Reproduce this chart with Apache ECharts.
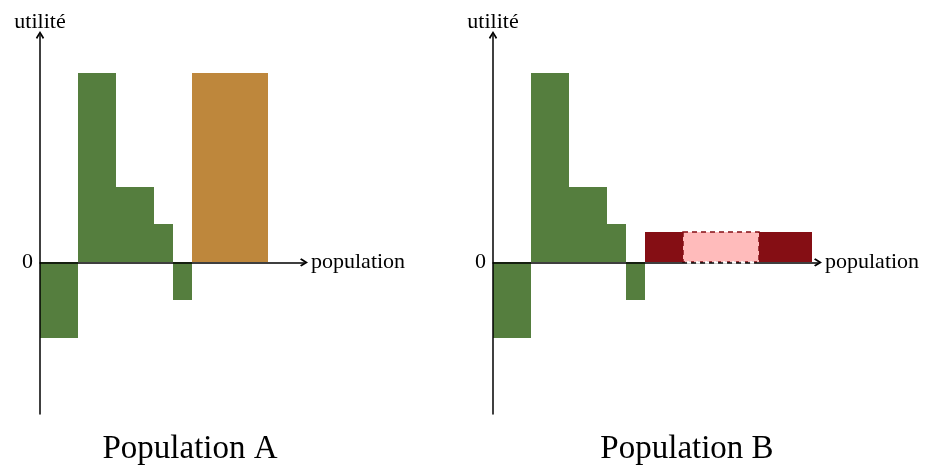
<!DOCTYPE html>
<html>
<head>
<meta charset="utf-8">
<script src="https://cdn.jsdelivr.net/npm/echarts@6/dist/echarts.min.js"></script>
<style>
  html, body { margin: 0; padding: 0; background: #fff; }
  #chart { width: 933px; height: 466px; }
</style>
</head>
<body>
<div id="chart"></div>
<script>
// Population A : tranches [debut, fin] et utilité
var popA_debut = [0, 1, 2, 3, 3.5, 4];
var popA_fin = [1, 2, 3, 3.5, 4, 6];
var popA_util = [-2, 5, 2, 1, -1, 5];
var popA_type = ["vert", "vert", "vert", "vert", "vert", "orange"];

// Population B
var popB_debut = [0, 1, 2, 3, 3.5, 4, 5, 7];
var popB_fin = [1, 2, 3, 3.5, 4, 5, 7, 8.4];
var popB_util = [-2, 5, 2, 1, -1, 0.8, 0.8, 0.8];
var popB_type = ["vert", "vert", "vert", "vert", "vert", "rouge", "rose", "rouge"];

var titres = ["Population A", "Population B"];

var couleurs = {
  vert: "#557e3e",
  orange: "#be873c",
  rouge: "#850e14",
  rose: "#ffbbbb"
};
var police = "'Liberation Serif', 'DejaVu Serif', serif";
// pointe de flèche ouverte (style TikZ)
var fleche = "path://M5,0 L10,8 L8.4,9.6 L5,4 L1.6,9.6 L0,8 Z";

function construireDonnees(debut, fin, util, type) {
  var res = [];
  for (var i = 0; i < debut.length; i++) {
    res.push([debut[i], fin[i], util[i], type[i]]);
  }
  return res;
}

function dessinerTranche(params, api) {
  var p0 = api.coord([api.value(0), api.value(2)]);
  var p1 = api.coord([api.value(1), 0]);
  var type = api.value(3);
  var x = Math.round(Math.min(p0[0], p1[0]));
  var x2 = Math.round(Math.max(p0[0], p1[0]));
  var y = Math.round(Math.min(p0[1], p1[1]));
  var y2 = Math.round(Math.max(p0[1], p1[1]));
  var style = { fill: couleurs[type] };
  if (type === "rose") {
    style.stroke = couleurs.rouge;
    style.lineWidth = 1.5;
    style.lineDash = [5, 4];
  }
  return {
    type: "rect",
    shape: { x: x, y: y, width: x2 - x, height: y2 - y },
    style: style
  };
}

// pointillés sur l'axe sous la zone rose
function dessinerPointilles(params, api) {
  var a = api.coord([api.value(0), 0]);
  var b = api.coord([api.value(1), 0]);
  return {
    type: "line",
    shape: { x1: a[0], y1: a[1], x2: b[0], y2: b[1] },
    style: { stroke: "#ffffff", lineWidth: 2.5, lineDash: [4, 5], lineDashOffset: 5 }
  };
}

function axeX(idx, max) {
  return {
    type: "value",
    gridIndex: idx,
    min: 0,
    max: max,
    z: 10,
    name: "population",
    nameLocation: "end",
    nameGap: 7,
    nameTextStyle: { fontFamily: police, fontSize: 22, color: "#000" },
    axisLine: {
      onZero: true,
      symbol: ["none", fleche],
      symbolSize: [12, 8],
      lineStyle: { color: "#000", width: 1.5 }
    },
    axisTick: { show: false },
    axisLabel: { show: false },
    splitLine: { show: false }
  };
}

function axeY(idx) {
  return {
    type: "value",
    gridIndex: idx,
    min: -4,
    max: 6,
    interval: 1,
    z: 10,
    name: "utilité",
    nameLocation: "end",
    nameGap: 2,
    nameTextStyle: { fontFamily: police, fontSize: 22, color: "#000", align: "center" },
    axisLine: {
      symbol: ["none", fleche],
      symbolSize: [12, 8],
      lineStyle: { color: "#000", width: 1.5 }
    },
    axisTick: { show: false },
    axisLabel: {
      fontFamily: police,
      fontSize: 22,
      color: "#000",
      margin: 7,
      formatter: function (v) { return v === 0 ? "0" : ""; }
    },
    splitLine: { show: false }
  };
}

var option = {
  animation: false,
  backgroundColor: "#fff",
  grid: [
    { left: 40, top: 35, width: 264, height: 379 },
    { left: 493, top: 35, width: 325, height: 379 }
  ],
  xAxis: [axeX(0, 6.95), axeX(1, 8.55)],
  yAxis: [axeY(0), axeY(1)],
  graphic: [
    {
      type: "text", x: 190, y: 449, z: 100,
      style: { text: titres[0], font: "33px " + police, fill: "#000", align: "center", verticalAlign: "middle" }
    },
    {
      type: "text", x: 687, y: 449, z: 100,
      style: { text: titres[1], font: "33px " + police, fill: "#000", align: "center", verticalAlign: "middle" }
    }
  ],
  series: [
    {
      type: "custom",
      xAxisIndex: 0,
      yAxisIndex: 0,
      z: 2,
      renderItem: dessinerTranche,
      encode: { x: [0, 1], y: 2 },
      data: construireDonnees(popA_debut, popA_fin, popA_util, popA_type)
    },
    {
      type: "custom",
      xAxisIndex: 1,
      yAxisIndex: 1,
      z: 2,
      renderItem: dessinerTranche,
      encode: { x: [0, 1], y: 2 },
      data: construireDonnees(popB_debut, popB_fin, popB_util, popB_type)
    },
    {
      type: "custom",
      xAxisIndex: 1,
      yAxisIndex: 1,
      z: 20,
      renderItem: dessinerPointilles,
      data: [[popB_debut[6], popB_fin[6]]]
    }
  ]
};

var myChart = echarts.init(document.getElementById("chart"));
myChart.setOption(option);
</script>
</body>
</html>
